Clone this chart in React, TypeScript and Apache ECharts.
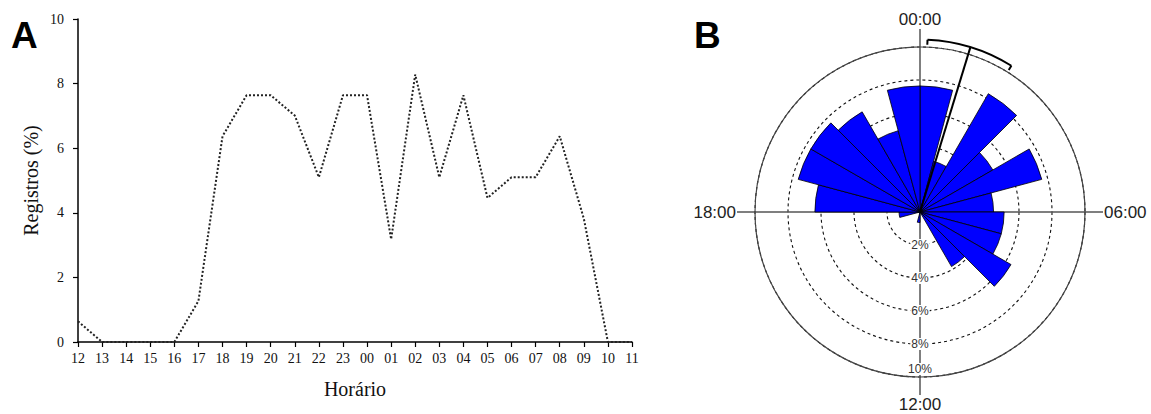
import React, { useEffect, useRef } from "react";
import * as echarts from "echarts";

// Hour labels of panel A (12:00 to 11:00)
const hours = ["12","13","14","15","16","17","18","19","20","21","22","23","00","01","02","03","04","05","06","07","08","09","10","11"];
// Records (%) per hour
const registros = [0.64,0,0,0,0,1.27,6.37,7.64,7.64,7.01,5.10,7.64,7.64,3.18,8.28,5.10,7.64,4.46,5.10,5.10,6.37,3.82,0,0];
// Y tick range
const yTicks = [0, 2, 4, 6, 8, 10];
// Rose diagram hours (clockwise from 00:00)
const roseHours = ["00","01","02","03","04","05","06","07","08","09","10","11","12","13","14","15","16","17","18","19","20","21","22","23"];
// Cardinal clock labels (degrees -> label)
const clockLabels: Record<number, string> = { 0: "00:00", 90: "06:00", 180: "12:00", 270: "18:00" };
// Radius labels (%)
const radiusTicks = [2, 4, 6, 8, 10];
// Mean vector: [length %, mean angle deg, CI low deg, CI high deg, arc radius %]
const meanVector = [[10.45, 17, 2.5, 32, 10.45]];

export default function App() {
  const ref = useRef<HTMLDivElement>(null);
  useEffect(() => {
    if (!ref.current) return;
    const chart = echarts.init(ref.current, undefined, { renderer: "svg" });
    const roseData = roseHours.map((h) => registros[hours.indexOf(h)]);
    const serif = "Liberation Serif";
    const sans = "Liberation Sans";
    const cx = 920, cy = 212, R = 165;
    chart.setOption({
      animation: false,
      title: [
        { text: "A", left: 6, top: 12, textStyle: { fontFamily: sans, fontWeight: "bold", fontSize: 37, color: "#000" } },
        { text: "B", left: 689, top: 12, textStyle: { fontFamily: sans, fontWeight: "bold", fontSize: 37, color: "#000" } },
      ],
      grid: { left: 78, top: 19, width: 554, height: 323 },
      xAxis: {
        type: "category",
        data: hours,
        boundaryGap: false,
        axisLine: { lineStyle: { color: "#000", width: 1.5 } },
        axisTick: { show: true, length: 5, interval: 0, lineStyle: { color: "#000", width: 1.2 } },
        axisLabel: { interval: 0, fontFamily: serif, fontSize: 14, color: "#111", margin: 9 },
        splitLine: { show: false },
        name: "Horário",
        nameLocation: "middle",
        nameGap: 37,
        nameTextStyle: { fontFamily: serif, fontSize: 20, color: "#111" },
      },
      yAxis: {
        type: "value",
        min: yTicks[0],
        max: yTicks[yTicks.length - 1],
        interval: 2,
        axisLine: { show: true, lineStyle: { color: "#000", width: 1.5 } },
        axisTick: { show: true, length: 5, lineStyle: { color: "#000", width: 1.2 } },
        axisLabel: { fontFamily: serif, fontSize: 14, color: "#111", margin: 14 },
        splitLine: { show: false },
        name: "Registros (%)",
        nameLocation: "middle",
        nameGap: 37,
        nameTextStyle: { fontFamily: serif, fontSize: 20, color: "#111" },
      },
      polar: [
        { center: [cx, cy], radius: R },
        { center: [cx, cy], radius: R },
        { center: [cx, cy], radius: R },
      ],
      angleAxis: [
        {
          polarIndex: 0,
          type: "category",
          data: roseHours,
          startAngle: 90,
          clockwise: true,
          boundaryGap: true,
          axisLine: { show: true, lineStyle: { color: "#444", width: 1.2 } },
          axisTick: { show: false },
          axisLabel: { show: false },
          splitLine: { show: false },
        },
        {
          polarIndex: 1,
          type: "value",
          min: 0,
          max: 360,
          interval: 90,
          startAngle: 90,
          clockwise: true,
          axisLine: { show: false },
          axisTick: { show: true, length: 18, inside: false, lineStyle: { color: "#555", width: 1.5 } },
          splitLine: { show: true, lineStyle: { color: "#555", width: 1.5 } },
          axisLabel: {
            margin: 19,
            fontFamily: sans,
            fontSize: 17,
            color: "#222",
            formatter: (v: number) => (v === 360 ? "" : clockLabels[v] ?? ""),
          },
        },
        {
          polarIndex: 2,
          type: "value",
          min: 0,
          max: 360,
          startAngle: 270,
          show: false,
        },
      ],
      radiusAxis: [
        {
          polarIndex: 0,
          min: 0,
          max: 10,
          interval: 2,
          axisLine: { show: false },
          axisTick: { show: false },
          axisLabel: { show: false },
          splitLine: { show: true, lineStyle: { type: [3, 3], color: "#111", width: 1.1 } },
        },
        {
          polarIndex: 1,
          min: 0,
          max: 10,
          show: false,
        },
        {
          polarIndex: 2,
          min: 0,
          max: 10,
          interval: 2,
          z: 10,
          axisLine: { show: false },
          axisTick: { show: false },
          splitLine: { show: false },
          axisLabel: {
            margin: 0,
            align: "center",
            verticalAlign: "middle",
            formatter: (v: number) => {
              if (radiusTicks.indexOf(v) < 0) return "";
              if (v === 10) return "{a|" + v + "%}\n{b|}";
              return "{a|" + v + "%}";
            },
            rich: {
              a: { fontFamily: sans, fontSize: 12, color: "#333", backgroundColor: "#fff", padding: [0, 1] },
              b: { height: 16, lineHeight: 16 },
            },
          },
        },
      ],
      series: [
        {
          type: "line",
          xAxisIndex: 0,
          yAxisIndex: 0,
          data: registros,
          symbol: "none",
          smooth: false,
          lineStyle: { type: "dotted", width: 2, color: "#222" },
        },
        {
          type: "bar",
          coordinateSystem: "polar",
          polarIndex: 0,
          data: roseData,
          barCategoryGap: "0%",
          itemStyle: { color: "#0000FF", borderColor: "#000", borderWidth: 0.8 },
          z: 3,
        },
        {
          type: "custom",
          coordinateSystem: "polar",
          polarIndex: 1,
          data: meanVector,
          encode: { radius: 0, angle: 1 },
          z: 6,
          renderItem: (params: any, api: any) => {
            const len = api.value(0);
            const mean = api.value(1);
            const lo = api.value(2);
            const hi = api.value(3);
            const arcR = api.value(4);
            const c = api.coord([0, 0]);
            const tip = api.coord([len, mean]);
            const ref0 = api.coord([arcR, 0]);
            const pr = Math.hypot(ref0[0] - c[0], ref0[1] - c[1]);
            const pLo = api.coord([arcR, lo]);
            const pHi = api.coord([arcR, hi]);
            const pLoIn = api.coord([arcR - 0.3, lo]);
            const pHiIn = api.coord([arcR - 0.3, hi]);
            const st = { stroke: "#000", lineWidth: 2, fill: null };
            return {
              type: "group",
              children: [
                { type: "line", shape: { x1: c[0], y1: c[1], x2: tip[0], y2: tip[1] }, style: { stroke: "#000", lineWidth: 2 } },
                {
                  type: "arc",
                  shape: { cx: c[0], cy: c[1], r: pr, startAngle: ((lo - 90) * Math.PI) / 180, endAngle: ((hi - 90) * Math.PI) / 180, clockwise: true },
                  style: st,
                },
                { type: "line", shape: { x1: pLo[0], y1: pLo[1], x2: pLoIn[0], y2: pLoIn[1] }, style: { stroke: "#000", lineWidth: 2 } },
                { type: "line", shape: { x1: pHi[0], y1: pHi[1], x2: pHiIn[0], y2: pHiIn[1] }, style: { stroke: "#000", lineWidth: 2 } },
              ],
            };
          },
        },
      ],
    });
    return () => chart.dispose();
  }, []);
  return <div ref={ref} style={{ position: "absolute", left: 0, top: 0, width: 1151, height: 414, background: "#fff" }} />;
}
